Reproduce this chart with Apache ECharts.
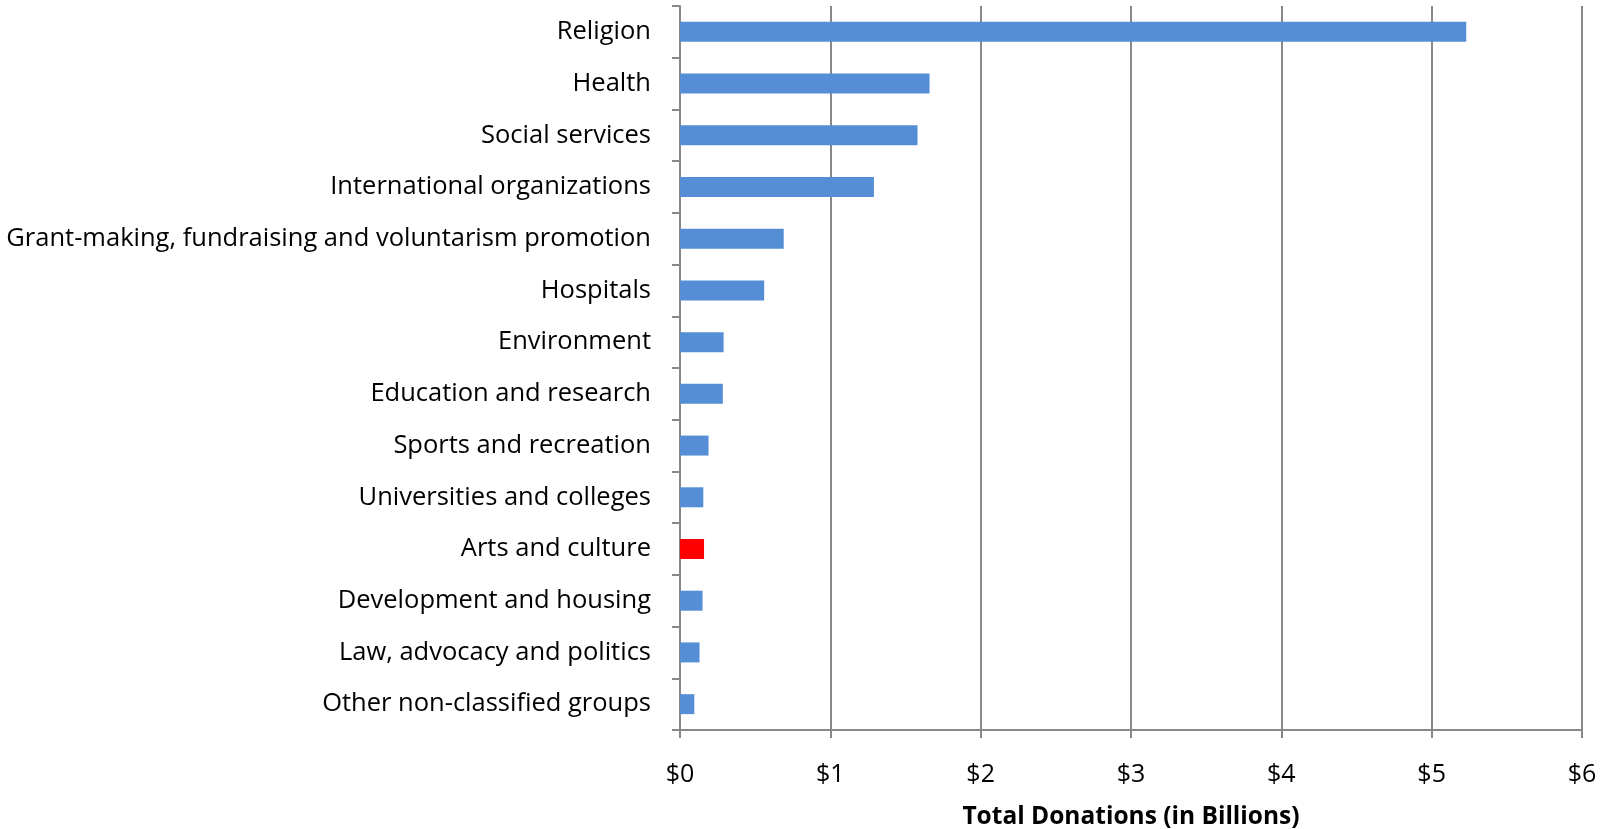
<!DOCTYPE html>
<html><head><meta charset="utf-8">
<script src="https://cdn.jsdelivr.net/npm/echarts@6/dist/echarts.min.js"></script>
<style>html,body{margin:0;padding:0;background:#fff}#c{width:1604px;height:829px}</style>
</head><body><div id="c"></div>
<script>
const categories = ["Religion","Health","Social services","International organizations","Grant-making, fundraising and voluntarism promotion","Hospitals","Environment","Education and research","Sports and recreation","Universities and colleges","Arts and culture","Development and housing","Law, advocacy and politics","Other non-classified groups"];
const values = [5.23,1.66,1.58,1.29,0.69,0.56,0.29,0.285,0.19,0.155,0.16,0.15,0.13,0.095];
const highlight = "Arts and culture";
const xTicks = ["$0","$1","$2","$3","$4","$5","$6"];

const chart = echarts.init(document.getElementById('c'));
const font = 'Open Sans';
chart.setOption({
  animation:false,
  grid:{left:680,right:22,top:6,bottom:99,containLabel:false,outerBoundsMode:'none'},
  xAxis:{type:'value',min:0,max:6,interval:1,
    name:'Total Donations (in Billions)',nameLocation:'middle',nameGap:75,
    nameTextStyle:{fontFamily:font,fontWeight:'bold',fontSize:24.5,color:'#000'},
    axisLine:{show:true,lineStyle:{color:'#888',width:2}},
    axisTick:{show:true,length:8,lineStyle:{color:'#888',width:2}},
    axisLabel:{fontFamily:font,fontSize:25,color:'#000',margin:32,formatter:(v)=>xTicks[Math.round(v)]},
    splitLine:{show:true,lineStyle:{color:'#888',width:2}}
  },
  yAxis:{type:'category',data:categories,inverse:true,
    axisLine:{show:true,lineStyle:{color:'#888',width:2}},
    axisTick:{show:true,length:8,lineStyle:{color:'#888',width:2}},
    axisLabel:{fontFamily:font,fontSize:25.5,color:'#000',margin:29,padding:[4,0,0,0]}
  },
  series:[{type:'bar',barWidth:20,
    data:values.map((v,i)=>({value:v,itemStyle:{color:categories[i]===highlight?'#FF0000':'#558ED5'}}))
  }]
});
</script></body></html>
